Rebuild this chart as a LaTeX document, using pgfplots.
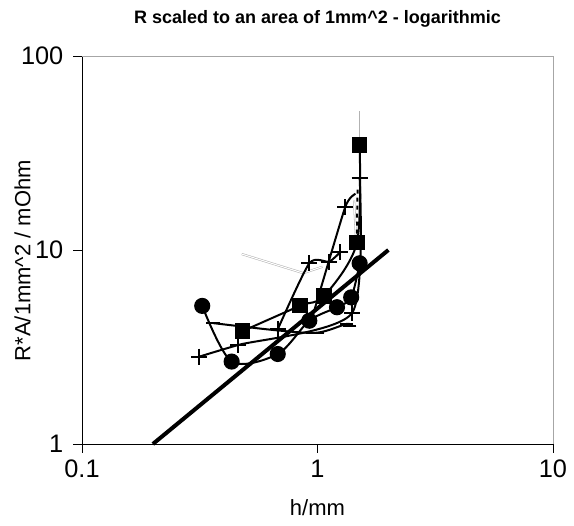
\documentclass[border=0pt]{standalone}
\usepackage{pgfplots}
\pgfplotsset{compat=1.18}
\usepackage{fontspec}
\setmainfont{Liberation Sans}
\begin{document}
\begin{tikzpicture}
\begin{axis}[
  scale only axis,
  width=353.25pt, height=291pt,
  xmode=log, ymode=log,
  xmin=0.1, xmax=10, ymin=1, ymax=100,
  xtick={0.1,1,10}, xticklabels={0.1,1,10},
  ytick={1,10,100}, yticklabels={1,10,100},
  minor tick length=0pt,
  tick align=outside, major tick length=6.5pt,
  tick style={black, line width=0.6pt},
  axis line style={line width=0.6pt},
  axis x line*=bottom, axis y line*=left,
  tick label style={font=\fontsize{19}{21}\selectfont},
  yticklabel style={xshift=-4pt},
  xticklabel style={yshift=-2pt},
  /pgf/number format/assume math mode=true,
  xlabel={h/mm}, ylabel={R*A/1mm\textasciicircum 2 / mOhm},
  label style={font=\fontsize{16.5}{18}\selectfont},
  xlabel style={yshift=-9pt},
  ylabel style={yshift=-14pt, xshift=-8pt},
  title={\textbf{R scaled to an area of 1mm\textasciicircum 2 - logarithmic}},
  title style={font=\fontsize{13.5}{15}\selectfont, yshift=12pt},
  clip=false,
]
\draw[gray!70, line width=0.6pt] (rel axis cs:0,1) -- (rel axis cs:1,1) -- (rel axis cs:1,0);
% gray thin lines
\addplot[gray!60, line width=0.4pt, double=white, double distance=0.8pt] coordinates {(0.477,9.53)(0.87,7.6)(1.05,8.2)};
\addplot[gray!60, line width=0.4pt, double=white, double distance=0.8pt] coordinates {(1.52,52)(1.52,35)};
\addplot[gray!60, line width=0.4pt, double=white, double distance=0.8pt] coordinates {(1.43,18)(1.46,11)};
% thick line
\addplot[black, line width=3pt] coordinates {(0.2,1)(2,10)};
% circles
\addplot[black, line width=1.5pt, smooth, tension=0.5, mark=*, mark size=5.3pt]
  coordinates {(0.324,5.15)(0.432,2.66)(0.678,2.91)(0.923,4.32)(1.21,5.07)(1.39,5.70)(1.51,8.54)};
% squares
\addplot[black, line width=1.5pt, smooth, tension=0.5, mark=square*, mark size=5pt]
  coordinates {(0.481,3.82)(0.843,5.16)(1.066,5.79)(1.47,10.9)(1.51,34.8)};
% plus series 1
\addplot[black, line width=1.5pt, smooth, tension=0.4, mark=+, mark size=6pt, mark options={line width=1.5pt}]
  coordinates {(0.315,2.82)(0.461,3.24)(1.40,4.72)(1.51,23.6)};
% plus series 2
\addplot[black, line width=1.5pt, smooth, tension=0.4, mark=+, mark size=6pt, mark options={line width=1.5pt}]
  coordinates {(0.678,3.9)(0.923,8.54)(1.12,8.71)(1.246,9.73)};
% plus series 3
\addplot[black, line width=1.5pt, smooth, tension=0.3, mark=+, mark size=6pt, mark options={line width=1.5pt}, mark indices={2}]
  coordinates {(0.94,4.3)(1.31,16.6)(1.45,19.5)};
\addplot[black, line width=1.5pt, dashed] coordinates {(1.48,20.5)(1.47,12)};
% dash series
\addplot[black, line width=1.5pt, smooth, tension=0.5, mark=-, mark size=5pt, mark options={line width=1.5pt}]
  coordinates {(0.36,4.2)(0.678,3.85)(1.0,3.75)(1.33,4.16)(1.37,4.06)};
\end{axis}
\path (current axis.south west) ++(-61.5pt,-60.75pt) coordinate (bl);
\path (current axis.north east) ++(15.75pt,42pt) coordinate (tr);
\path[use as bounding box] (bl) rectangle (tr);
\end{tikzpicture}
\end{document}
